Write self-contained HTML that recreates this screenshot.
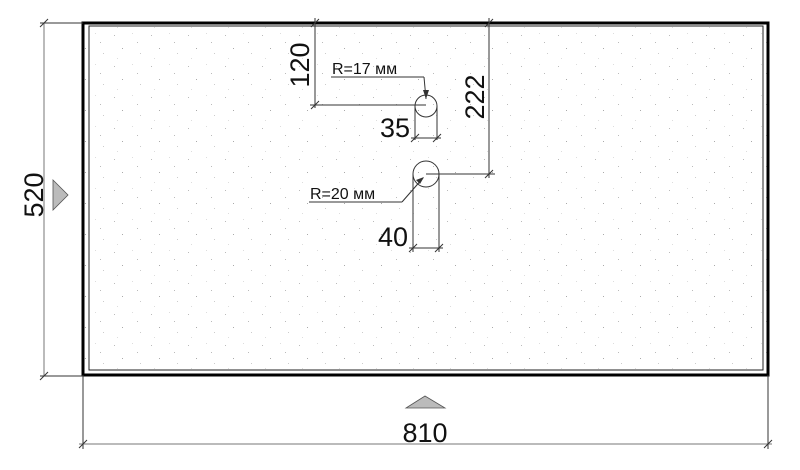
<!DOCTYPE html>
<html><head><style>body{margin:0;background:#fff}svg{display:block}</style></head><body>
<svg width="800" height="470" viewBox="0 0 800 470" xmlns="http://www.w3.org/2000/svg" font-family="Liberation Sans, sans-serif">
<defs>
<pattern id="dots" width="37" height="31" patternUnits="userSpaceOnUse">
<rect x="3" y="4" width="1" height="1" fill="#bbb"/><rect x="21" y="2" width="1" height="1" fill="#ddd"/>
<rect x="11" y="17" width="1" height="1" fill="#aaa"/><rect x="29" y="22" width="1" height="1" fill="#ccc"/>
<rect x="6" y="27" width="1" height="1" fill="#ddd"/><rect x="26" y="11" width="1" height="1" fill="#bbb"/>
</pattern>
</defs>
<rect x="83" y="23" width="685" height="352" fill="url(#dots)"/>
<rect x="89" y="26" width="674" height="344" fill="none" stroke="#222" stroke-width="1"/>
<rect x="83" y="23" width="685" height="352" fill="none" stroke="#000" stroke-width="3"/>
<g stroke="#333" stroke-width="1" fill="none">
<line x1="44" y1="23" x2="44" y2="376" stroke="#777"/>
<line x1="40" y1="23" x2="83" y2="23"/><line x1="40" y1="376" x2="83" y2="376"/>
<line x1="40" y1="27" x2="48" y2="19"/><line x1="40" y1="380" x2="48" y2="372"/>
<line x1="83" y1="375" x2="83" y2="449"/><line x1="768" y1="375" x2="768" y2="449"/>
<line x1="79" y1="444" x2="772" y2="444" stroke="#777"/>
<line x1="79" y1="448" x2="87" y2="440"/><line x1="764" y1="448" x2="772" y2="440"/>
<line x1="315" y1="18" x2="315" y2="108"/><line x1="310" y1="105" x2="426" y2="105"/>
<line x1="311" y1="27" x2="319" y2="19"/><line x1="311" y1="109" x2="319" y2="101"/>
<circle cx="426" cy="106" r="11"/><circle cx="426" cy="174" r="13"/>
<line x1="331" y1="77" x2="424" y2="77"/><line x1="424" y1="77" x2="426" y2="99"/>
<line x1="415" y1="106" x2="415" y2="140"/><line x1="437" y1="106" x2="437" y2="140"/>
<line x1="411" y1="138" x2="441" y2="138"/>
<line x1="411" y1="142" x2="419" y2="134"/><line x1="433" y1="142" x2="441" y2="134"/>
<line x1="489" y1="18" x2="489" y2="178"/><line x1="426" y1="174" x2="495" y2="174"/>
<line x1="485" y1="27" x2="493" y2="19"/><line x1="485" y1="178" x2="493" y2="170"/>
<line x1="309" y1="202" x2="402" y2="202"/><line x1="402" y1="202" x2="423" y2="178"/>
<line x1="413" y1="174" x2="413" y2="252"/><line x1="439" y1="174" x2="439" y2="252"/>
<line x1="409" y1="248" x2="443" y2="248"/>
<line x1="409" y1="252" x2="417" y2="244"/><line x1="435" y1="252" x2="443" y2="244"/>
</g>
<path d="M426,99 l-3,-9 l6,0 z" fill="#333"/>
<path d="M424,177 l-8,3 l4,4 z" fill="#333"/>
<path d="M53,180 L68,195 L53,210 Z" fill="#bbb" stroke="#555" stroke-width="0.8"/>
<path d="M406,408 L425,396 L445,408 Z" fill="#bbb" stroke="#555" stroke-width="0.8"/>
<g fill="#111" font-size="27">
<text x="425" y="442" text-anchor="middle">810</text>
<text transform="translate(43,195) rotate(-90)" text-anchor="middle">520</text>
<text transform="translate(309,65) rotate(-90)" text-anchor="middle">120</text>
<text transform="translate(484,97) rotate(-90)" text-anchor="middle">222</text>
<text x="410" y="137" text-anchor="end">35</text>
<text x="408" y="246" text-anchor="end">40</text>
</g>
<g fill="#111" font-size="16">
<text x="332" y="74">R=17 мм</text>
<text x="310" y="199">R=20 мм</text>
</g>
</svg>
</body></html>
